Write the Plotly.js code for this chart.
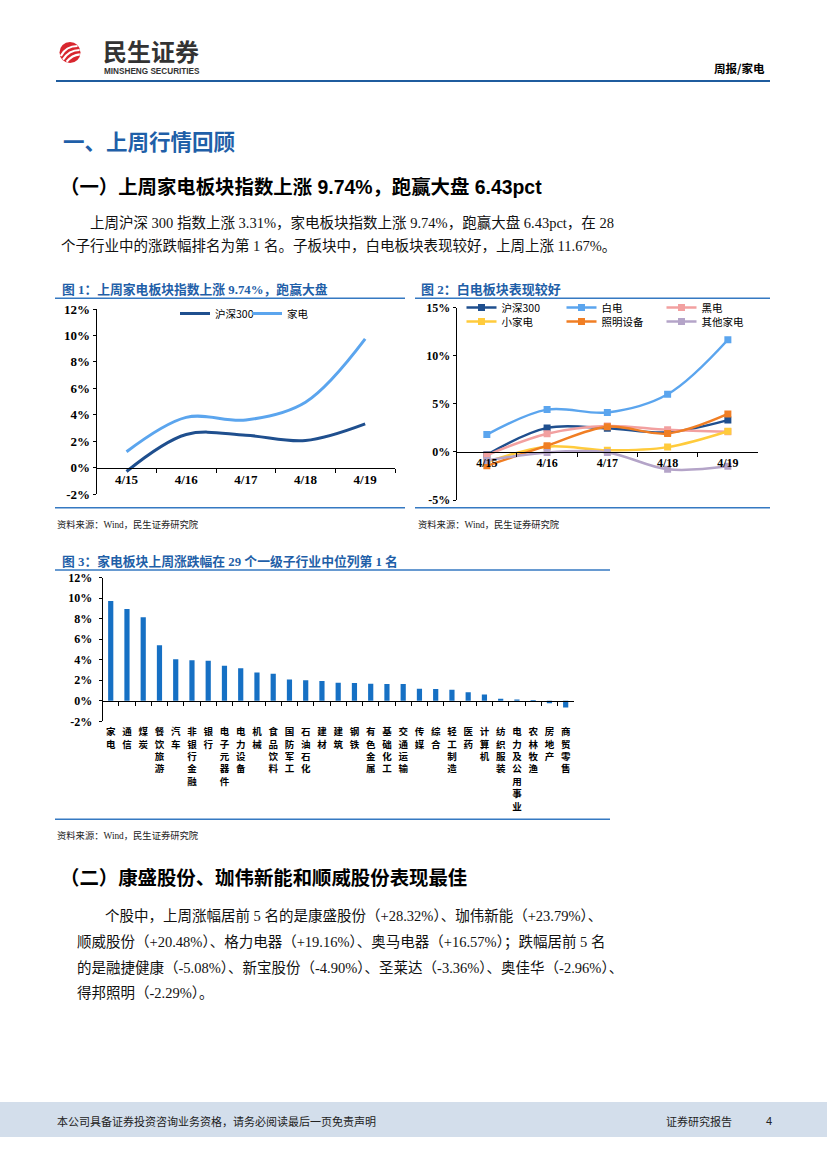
<!DOCTYPE html>
<html><head><meta charset="utf-8">
<script src="https://cdn.plot.ly/plotly-3.0.1.min.js"></script>
<style>html,body{margin:0;padding:0;background:#fff}#page{width:827px;height:1169px}</style>
</head><body><div id="page"></div>
<script>
// ---------- data ----------
const dates = ['4/15','4/16','4/17','4/18','4/19'];
const hs300 = [-0.3, 2.5, 2.45, 2.05, 3.31];
const jiadian = [1.2, 3.8, 3.6, 4.95, 9.74];
const baidian = [1.8, 4.4, 4.1, 6.0, 11.67];
const heidian = [-0.35, 1.9, 2.7, 2.3, 2.1];
const xiaojiadian = [-1.05, 0.55, 0.17, 0.5, 2.15];
const zhaoming = [-1.45, 0.65, 2.62, 1.92, 3.95];
const qitajiadian = [-0.9, -0.05, -0.05, -1.8, -1.5];

const industries = ['家电','通信','煤炭','餐饮旅游','汽车','非银行金融','银行','电子元器件','电力设备','机械','食品饮料','国防军工','石油石化','建材','建筑','钢铁','有色金属','基础化工','交通运输','传媒','综合','轻工制造','医药','计算机','纺织服装','电力及公用事业','农林牧渔','房地产','商贸零售'];
const weeklyChange = [9.74, 8.96, 8.15, 5.42, 4.06, 3.96, 3.90, 3.41, 3.18, 2.76, 2.63, 2.08, 2.01, 1.93, 1.75, 1.74, 1.67, 1.64, 1.63, 1.18, 1.15, 1.08, 0.82, 0.62, 0.20, 0.13, 0.07, -0.23, -0.66];

const c1YTicks = [-2, 0, 2, 4, 6, 8, 10, 12];
const c1YText = ['-2%', '0%', '2%', '4%', '6%', '8%', '10%', '12%'];
const c2YTicks = [-5, 0, 5, 10, 15];
const c2YText = ['-5%', '0%', '5%', '10%', '15%'];
const c3YTicks = [-2, 0, 2, 4, 6, 8, 10, 12];
const c3YText = ['-2%', '0%', '2%', '4%', '6%', '8%', '10%', '12%'];

// ---------- helpers ----------
const W = 827, H = 1169;
const X = p => p / W;
const Y = p => 1 - p / H;

const CJK = 'Noto Sans CJK SC';
const SERIF = 'Liberation Serif, Noto Sans CJK SC';
const SANS = 'Liberation Sans, Noto Sans CJK SC';
const BLUE_T = '#1F5FA8';
const LINE_B = '#3579C2';

function ann(text, x, y, font, xanchor) {
  return {text: text, x: X(x), y: Y(y), xref: 'paper', yref: 'paper',
    xanchor: xanchor || 'left', yanchor: 'middle', showarrow: false, font: font};
}
function hline(x0, x1, y, color, w) {
  return {type: 'line', xref: 'paper', yref: 'paper', x0: X(x0), x1: X(x1), y0: Y(y), y1: Y(y),
    line: {color: color, width: w}};
}

const tickFontB = s => ({family: 'Liberation Serif', size: s, color: '#000', weight: 'bold'});

// ---------- traces ----------
const traces = [];
// chart 1
traces.push({x: dates, y: hs300, type: 'scatter', mode: 'lines', name: '沪深300',
  line: {color: '#1F4F8E', width: 3, shape: 'spline', smoothing: 1}, xaxis: 'x', yaxis: 'y', legend: 'legend'});
traces.push({x: dates, y: jiadian, type: 'scatter', mode: 'lines', name: '家电',
  line: {color: '#5BA5EE', width: 3, shape: 'spline', smoothing: 1}, xaxis: 'x', yaxis: 'y', legend: 'legend'});
// chart 2
const c2 = [
  ['沪深300', hs300, '#1F4F8E', 'legend2'],
  ['白电', baidian, '#5BA5EE', 'legend2'],
  ['黑电', heidian, '#F2A0A0', 'legend2'],
  ['小家电', xiaojiadian, '#FFCB3C', 'legend3'],
  ['照明设备', zhaoming, '#F07E24', 'legend3'],
  ['其他家电', qitajiadian, '#B4A4C8', 'legend3']
];
c2.forEach(s => traces.push({x: dates, y: s[1], type: 'scatter', mode: 'lines+markers', name: s[0],
  line: {color: s[2], width: 2.5, shape: 'spline', smoothing: 1},
  marker: {symbol: 'square', size: 7, color: s[2]},
  xaxis: 'x2', yaxis: 'y2', legend: s[3]}));
// chart 3
traces.push({x: industries, y: weeklyChange, type: 'bar', marker: {color: '#1670C4'},
  xaxis: 'x3', yaxis: 'y3', showlegend: false});

// ---------- layout ----------
const legendBase = {orientation: 'h', xanchor: 'left', yanchor: 'middle', bgcolor: 'rgba(0,0,0,0)',
  borderwidth: 0, itemwidth: 30, font: {family: CJK, size: 10.5, color: '#000'}, itemclick: false};

const layout = {
  width: W, height: H, margin: {l: 0, r: 0, t: 0, b: 0},
  paper_bgcolor: '#fff', plot_bgcolor: 'rgba(0,0,0,0)',
  showlegend: true, bargap: 0.68,
  legend: Object.assign({}, legendBase, {x: X(175), y: Y(313.5), entrywidth: 27}),
  legend2: Object.assign({}, legendBase, {x: X(461.5), y: Y(307.6), entrywidth: 55}),
  legend3: Object.assign({}, legendBase, {x: X(461.5), y: Y(321.6), entrywidth: 55}),
  xaxis: {domain: [X(96.7), X(395)], anchor: 'free', position: Y(467.7), type: 'category',
    range: [-0.5, 4.5], showline: true, linecolor: '#000', linewidth: 1, ticks: 'outside', ticklen: 4,
    tickcolor: '#000', tickson: 'boundaries', tickfont: tickFontB(13), showgrid: false, zeroline: false, fixedrange: true},
  yaxis: {domain: [Y(494), Y(309)], anchor: 'x', range: [-2, 12], tickvals: c1YTicks, ticktext: c1YText,
    showline: true, linecolor: '#000', linewidth: 1, ticks: 'outside', ticklen: 3, tickcolor: '#000',
    tickfont: tickFontB(13), showgrid: false, zeroline: false, fixedrange: true},
  xaxis2: {domain: [X(456.7), X(758)], anchor: 'free', position: Y(451.7), type: 'category',
    range: [-0.5, 4.5], showline: true, linecolor: '#000', linewidth: 1, ticks: 'outside', ticklen: 4,
    tickcolor: '#000', tickson: 'boundaries', tickfont: tickFontB(12), showgrid: false, zeroline: false, fixedrange: true},
  yaxis2: {domain: [Y(500), Y(307.7)], anchor: 'x2', range: [-5, 15], tickvals: c2YTicks, ticktext: c2YText,
    showline: true, linecolor: '#000', linewidth: 1, ticks: 'outside', ticklen: 3, tickcolor: '#000',
    tickfont: tickFontB(12), showgrid: false, zeroline: false, fixedrange: true},
  xaxis3: {domain: [X(102.6), X(573.8)], anchor: 'free', position: Y(701), type: 'category',
    range: [-0.5, industries.length - 0.5], showline: true, linecolor: '#000', linewidth: 1,
    ticks: 'outside', ticklen: 4, tickcolor: '#000', tickson: 'boundaries',
    tickvals: industries, ticktext: industries.map(s => s.split('').join('<br>')), tickangle: 0,
    ticklabelstandoff: 22,
    tickfont: {family: CJK, size: 9.5, color: '#000', weight: 'bold'}, showgrid: false, zeroline: false, fixedrange: true},
  yaxis3: {domain: [Y(721.3), Y(577.7)], anchor: 'x3', range: [-2, 12], tickvals: c3YTicks, ticktext: c3YText,
    showline: true, linecolor: '#000', linewidth: 1, ticks: 'outside', ticklen: 3, tickcolor: '#000',
    ticklabelstandoff: 4,
    tickfont: tickFontB(12), showgrid: false, zeroline: false, fixedrange: true},
  shapes: [
    // footer band
    {type: 'rect', xref: 'paper', yref: 'paper', x0: 0, x1: 1, y0: Y(1137), y1: Y(1102),
      fillcolor: '#D3DEEB', line: {width: 0}, layer: 'below'},
    // header line
    hline(56, 770, 81, '#1F5C9E', 2),
    // chart frames
    hline(55, 405, 298.3, LINE_B, 1.5), hline(55, 405, 507.7, LINE_B, 1.5),
    hline(415, 770, 298.3, LINE_B, 1.5), hline(415, 770, 507.7, LINE_B, 1.5),
    hline(55, 610, 570, LINE_B, 1.5), hline(55, 610, 819.3, LINE_B, 1.5),
    // logo
    {type: 'circle', xref: 'paper', yref: 'paper', x0: X(59.5), x1: X(80.5), y0: Y(63), y1: Y(42),
      fillcolor: '#D8262E', line: {width: 0}},
    {type: 'path', xref: 'paper', yref: 'paper',
      path: 'M' + X(60.8) + ',' + Y(56) + ' Q' + X(66) + ',' + Y(46) + ' ' + X(77.5) + ',' + Y(46),
      line: {color: '#fff', width: 2.2}},
    {type: 'path', xref: 'paper', yref: 'paper',
      path: 'M' + X(63) + ',' + Y(59.6) + ' Q' + X(69) + ',' + Y(50) + ' ' + X(79.6) + ',' + Y(50),
      line: {color: '#fff', width: 2.2}},
    {type: 'path', xref: 'paper', yref: 'paper',
      path: 'M' + X(66.6) + ',' + Y(61.8) + ' Q' + X(72) + ',' + Y(55) + ' ' + X(79.8) + ',' + Y(54.3),
      line: {color: '#fff', width: 2.2}}
  ],
  annotations: [
    ann('民生证券', 101, 50.5, {family: CJK, size: 24, color: '#333', weight: 'bold'}),
    ann('MINSHENG SECURITIES', 101.5, 71.6, {family: 'Liberation Sans', size: 8.2, color: '#333', weight: 'bold'}),
    ann('周报/家电', 767, 68, {family: CJK, size: 11.5, color: '#000', weight: 'bold'}, 'right'),
    ann('一、上周行情回顾', 61, 140, {family: CJK, size: 21.5, color: BLUE_T, weight: 'bold'}),
    ann('（一）上周家电板块指数上涨 9.74%，跑赢大盘 6.43pct', 58, 187, {family: SANS, size: 19.4, color: '#000', weight: 'bold'}),
    ann('上周沪深 300 指数上涨 3.31%，家电板块指数上涨 9.74%，跑赢大盘 6.43pct，在 28', 88, 222, {family: SERIF, size: 14.5, color: '#111'}),
    ann('个子行业中的涨跌幅排名为第 1 名。子板块中，白电板块表现较好，上周上涨 11.67%。', 59, 246, {family: SERIF, size: 14.5, color: '#111'}),
    ann('图 1：上周家电板块指数上涨 9.74%，跑赢大盘', 60, 290, {family: SERIF, size: 12.8, color: BLUE_T, weight: 'bold'}),
    ann('图 2：白电板块表现较好', 419, 290, {family: SERIF, size: 13, color: BLUE_T, weight: 'bold'}),
    ann('资料来源：Wind，民生证券研究院', 55, 524, {family: SERIF, size: 9.3, color: '#222'}),
    ann('资料来源：Wind，民生证券研究院', 416, 524, {family: SERIF, size: 9.3, color: '#222'}),
    ann('图 3：家电板块上周涨跌幅在 29 个一级子行业中位列第 1 名', 60, 561, {family: SERIF, size: 12.8, color: BLUE_T, weight: 'bold'}),
    ann('资料来源：Wind，民生证券研究院', 55, 835, {family: SERIF, size: 9.3, color: '#222'}),
    ann('（二）康盛股份、珈伟新能和顺威股份表现最佳', 58, 878, {family: SANS, size: 19.4, color: '#000', weight: 'bold'}),
    ann('个股中，上周涨幅居前 5 名的是康盛股份（+28.32%）、珈伟新能（+23.79%）、', 103, 916, {family: SERIF, size: 14.5, color: '#111'}),
    ann('顺威股份（+20.48%）、格力电器（+19.16%）、奥马电器（+16.57%）；跌幅居前 5 名', 75, 942, {family: SERIF, size: 14.5, color: '#111'}),
    ann('的是融捷健康（-5.08%）、新宝股份（-4.90%）、圣莱达（-3.36%）、奥佳华（-2.96%）、', 75, 968, {family: SERIF, size: 14.5, color: '#111'}),
    ann('得邦照明（-2.29%）。', 75, 993, {family: SERIF, size: 14.5, color: '#111'}),
    ann('本公司具备证券投资咨询业务资格，请务必阅读最后一页免责声明', 55, 1121, {family: CJK, size: 11, color: '#222'}),
    ann('证券研究报告', 664, 1121, {family: CJK, size: 11, color: '#222'}),
    ann('4', 764, 1121, {family: SANS, size: 11, color: '#222'})
  ]
};

Plotly.newPlot('page', traces, layout, {staticPlot: true, displayModeBar: false});
</script>
</body></html>
